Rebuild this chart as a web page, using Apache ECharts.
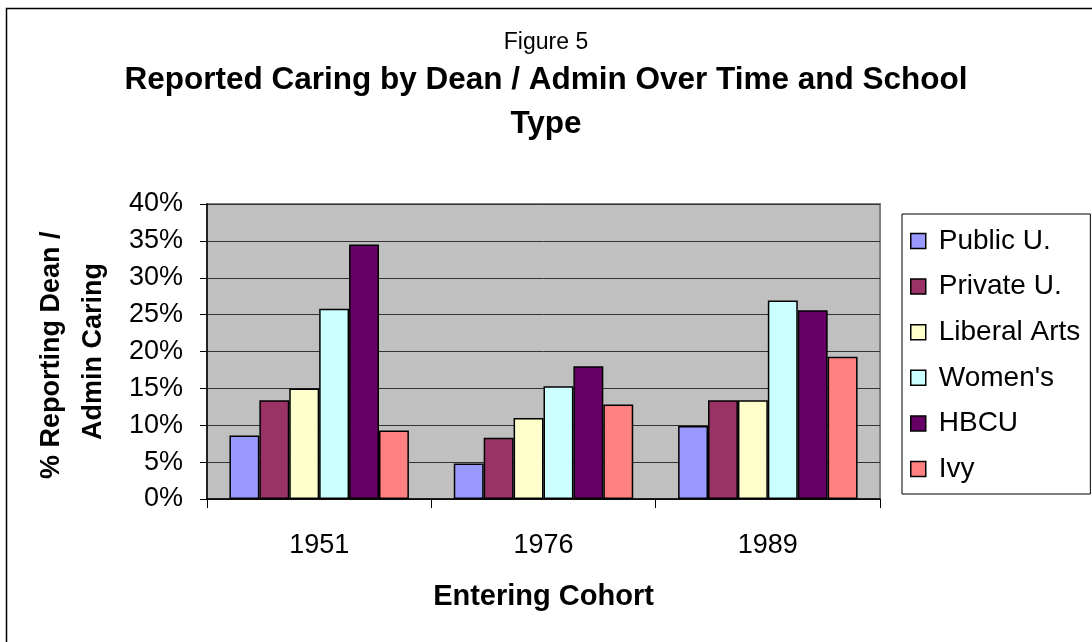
<!DOCTYPE html>
<html>
<head>
<meta charset="utf-8">
<script src="https://cdn.jsdelivr.net/npm/echarts@6/dist/echarts.min.js"></script>
<style>html,body{margin:0;padding:0;background:#fff}#c{width:1092px;height:642px}</style>
</head>
<body>
<div id="c"></div>
<script>
const categories = ['1951', '1976', '1989'];
const seriesNames = ['Public U.', 'Private U.', 'Liberal Arts', "Women's", 'HBCU', 'Ivy'];
const publicU = [8.6, 4.8, 9.9];
const privateU = [13.4, 8.3, 13.4];
const liberalArts = [15.0, 11.0, 13.4];
const womens = [25.8, 15.3, 26.9];
const hbcu = [34.5, 18.0, 25.6];
const ivy = [9.3, 12.8, 19.3];
const yTicks = [0, 5, 10, 15, 20, 25, 30, 35, 40];

const values = [publicU, privateU, liberalArts, womens, hbcu, ivy];
const colors = ['#9999FF', '#993366', '#FFFFCC', '#CCFFFF', '#660066', '#FF8080'];
const font = '"Liberation Sans", Arial, Helvetica, sans-serif';

const chart = echarts.init(document.getElementById('c'), null, {renderer: 'canvas'});
chart.setOption({
  backgroundColor: '#ffffff',
  animation: false,
  graphic: [{
    type: 'rect', left: 4, top: 6, z: -1,
    shape: {width: 1200, height: 800},
    style: {fill: 'none', stroke: '#000', lineWidth: 1.5}
  }],
  title: [{
    text: 'Figure 5', left: 'center', top: 26,
    textStyle: {fontFamily: font, fontSize: 23, fontWeight: 'normal', color: '#000'}
  }, {
    text: 'Reported Caring by Dean / Admin Over Time and School\nType',
    left: 'center', top: 53,
    textStyle: {fontFamily: font, fontSize: 31.5, fontWeight: 'bold', color: '#000', lineHeight: 44}
  }],
  legend: {
    orient: 'vertical', left: 902, top: 214,
    padding: [12, 10, 10, 8],
    itemWidth: 15, itemHeight: 15, itemGap: 15.6,
    icon: 'rect',
    borderColor: '#000', borderWidth: 1,
    data: seriesNames,
    textStyle: {fontFamily: font, fontSize: 28, color: '#000', lineHeight: 30, padding: [0, 0, 0, 8]},
    itemStyle: {borderColor: '#000', borderWidth: 1.5}
  },
  grid: {
    left: 207, right: 212, top: 204, bottom: 143,
    show: true, backgroundColor: '#C0C0C0', borderColor: '#808080', borderWidth: 2
  },
  xAxis: {
    type: 'category', data: categories,
    name: 'Entering Cohort', nameLocation: 'middle', nameGap: 83,
    nameTextStyle: {fontFamily: font, fontSize: 29, fontWeight: 'bold', color: '#000'},
    axisLine: {lineStyle: {color: '#000', width: 1.5}},
    axisTick: {show: true, length: 9, lineStyle: {color: '#000'}},
    axisLabel: {fontFamily: font, fontSize: 27, color: '#000', margin: 33}
  },
  yAxis: {
    type: 'value', min: 0, max: 40, interval: 5,
    name: '% Reporting Dean / \nAdmin Caring', nameLocation: 'middle', nameGap: 92,
    nameTextStyle: {fontFamily: font, fontSize: 27, fontWeight: 'bold', color: '#000', lineHeight: 42},
    axisLine: {show: true, lineStyle: {color: '#000', width: 1.5}},
    axisTick: {show: true, length: 7, lineStyle: {color: '#000'}},
    axisLabel: {fontFamily: font, fontSize: 27, color: '#000', margin: 24,
      formatter: v => (yTicks.indexOf(v) >= 0 ? v + '%' : '')},
    splitLine: {show: true, lineStyle: {color: '#333', width: 1}}
  },
  series: seriesNames.map((n, i) => ({
    name: n, type: 'bar', data: values[i],
    barGap: '0%', barCategoryGap: '20%',
    itemStyle: {color: colors[i], borderColor: '#000', borderWidth: 1.5}
  }))
});
</script>
</body>
</html>
